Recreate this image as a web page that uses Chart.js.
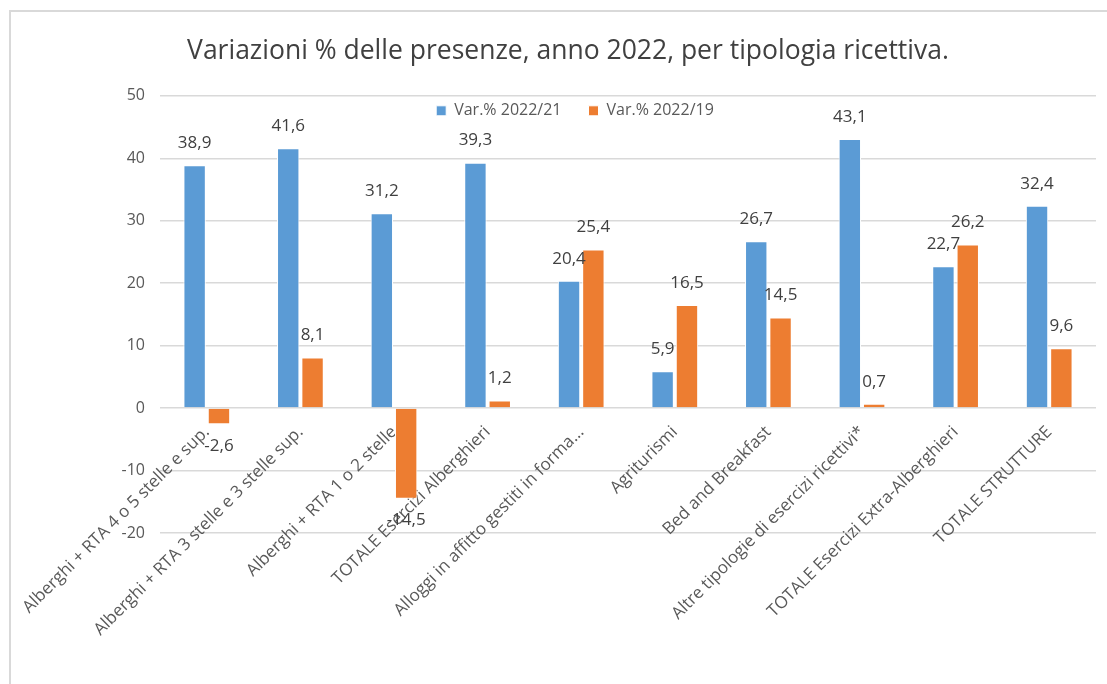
<!DOCTYPE html>
<html lang="it">
<head>
    <meta charset="UTF-8">
    <title>Variazioni % delle presenze 2022</title>
    <script src="https://cdn.jsdelivr.net/npm/chart.js"></script>
    <style>
        html, body { margin: 0; padding: 0; background: #fff; overflow: hidden; }
        #wrap { position: relative; width: 1107px; height: 684px; }
        #frame { position: absolute; left: 9px; top: 10px; width: 1200px; height: 800px; border: 2px solid #d9d9d9; }
        #chart { position: absolute; left: 0; top: 0; }
    </style>
</head>
<body>
    <div id="wrap">
        <div id="frame"></div>
        <canvas id="chart" width="1107" height="684"></canvas>
    </div>

    <script>
        // data
        const categories = [
            'Alberghi + RTA 4 o 5 stelle e sup.',
            'Alberghi + RTA 3 stelle e 3 stelle sup.',
            'Alberghi + RTA 1 o 2 stelle',
            'TOTALE Esercizi Alberghieri',
            'Alloggi in affitto gestiti in forma...',
            'Agriturismi',
            'Bed and Breakfast',
            'Altre tipologie di esercizi ricettivi*',
            'TOTALE Esercizi Extra-Alberghieri',
            'TOTALE STRUTTURE'
        ];
        const var2022_21 = [38.9, 41.6, 31.2, 39.3, 20.4, 5.9, 26.7, 43.1, 22.7, 32.4];
        const var2022_19 = [-2.6, 8.1, -14.5, 1.2, 25.4, 16.5, 14.5, 0.7, 26.2, 9.6];
        const yTicks = { min: -20, max: 50, step: 10 };

        const FONT = '"Open Sans", "DejaVu Sans", sans-serif';
        const textGray = '#595959';

        // value labels above / below each bar
        const valueLabels = {
            id: 'valueLabels',
            afterDatasetsDraw(chart) {
                const ctx = chart.ctx;
                ctx.save();
                ctx.font = '17px ' + FONT;
                ctx.fillStyle = '#404040';
                ctx.textAlign = 'center';
                ctx.textBaseline = 'middle';
                chart.data.datasets.forEach((ds, i) => {
                    chart.getDatasetMeta(i).data.forEach((bar, j) => {
                        const v = ds.data[j];
                        const y = v >= 0 ? bar.y - 22 : bar.y + 22;
                        ctx.fillText(v.toFixed(1).replace('.', ','), bar.x, y);
                    });
                });
                ctx.restore();
            }
        };

        // the legend sits just inside the top of the plot in the original
        const legendDrop = {
            id: 'legendDrop',
            afterLayout(chart) {
                const lg = chart.legend;
                if (!lg) return;
                lg.top += 33;
                lg.bottom += 33;
                lg.left += 7;
                lg.right += 7;
            }
        };

        new Chart(document.getElementById('chart'), {
            type: 'bar',
            data: {
                labels: categories,
                datasets: [{
                    label: 'Var.% 2022/21',
                    data: var2022_21,
                    backgroundColor: '#5b9bd5',
                    borderColor: '#ffffff',
                    borderWidth: 1
                }, {
                    label: 'Var.% 2022/19',
                    data: var2022_19,
                    backgroundColor: '#ed7d31',
                    borderColor: '#ffffff',
                    borderWidth: 1
                }]
            },
            options: {
                responsive: false,
                animation: false,
                categoryPercentage: 0.52,
                barPercentage: 0.92,
                layout: { padding: { left: 40, right: 11, top: 36, bottom: 151 } },
                plugins: {
                    title: {
                        display: true,
                        text: 'Variazioni % delle presenze, anno 2022, per tipologia ricettiva.',
                        color: '#404040',
                        font: { family: FONT, size: 26.5, weight: 'normal' },
                        padding: { top: 0, bottom: -25 }
                    },
                    legend: {
                        position: 'top',
                        align: 'center',
                        labels: {
                            boxWidth: 10,
                            boxHeight: 10,
                            color: textGray,
                            padding: 27,
                            font: { family: FONT, size: 16 }
                        }
                    },
                    tooltip: { enabled: false }
                },
                scales: {
                    x: {
                        position: { y: 0 },
                        grid: { display: false, drawTicks: false },
                        border: { display: false },
                        ticks: {
                            autoSkip: false,
                            minRotation: 45,
                            maxRotation: 45,
                            padding: 14,
                            color: textGray,
                            font: { family: FONT, size: 17 }
                        }
                    },
                    y: {
                        min: yTicks.min,
                        max: yTicks.max,
                        afterFit(scale) { scale.width = 120; },
                        grid: { color: '#d9d9d9', lineWidth: 1.5, drawTicks: false },
                        border: { display: false },
                        ticks: {
                            stepSize: yTicks.step,
                            padding: 15,
                            color: textGray,
                            font: { family: FONT, size: 16 }
                        }
                    }
                }
            },
            plugins: [valueLabels, legendDrop]
        });
    </script>
</body>
</html>
